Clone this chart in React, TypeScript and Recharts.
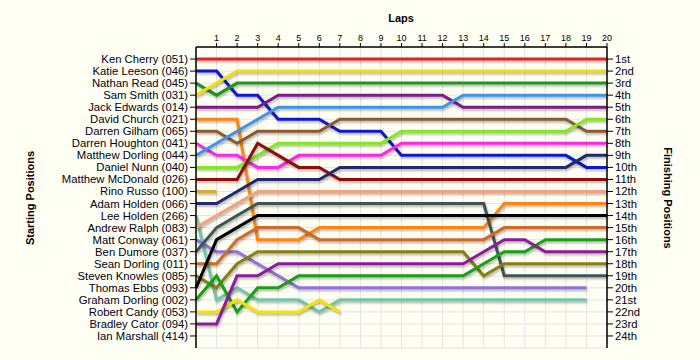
import { LineChart, Line, XAxis, YAxis, CartesianGrid } from "recharts";

const LAPS = [0, 1, 2, 3, 4, 5, 6, 7, 8, 9, 10, 11, 12, 13, 14, 15, 16, 17, 18, 19, 20];
const LAP_TICKS = [1, 2, 3, 4, 5, 6, 7, 8, 9, 10, 11, 12, 13, 14, 15, 16, 17, 18, 19, 20];
const POS_TICKS = [1, 2, 3, 4, 5, 6, 7, 8, 9, 10, 11, 12, 13, 14, 15, 16, 17, 18, 19, 20, 21, 22, 23, 24];

// starting grid, top to bottom
const STARTERS = [
  "Ken Cherry (051)",
  "Katie Leeson (046)",
  "Nathan Read (045)",
  "Sam Smith (031)",
  "Jack Edwards (014)",
  "David Church (021)",
  "Darren Gilham (065)",
  "Darren Houghton (041)",
  "Matthew Dorling (044)",
  "Daniel Nunn (040)",
  "Matthew McDonald (026)",
  "Rino Russo (100)",
  "Adam Holden (066)",
  "Lee Holden (266)",
  "Andrew Ralph (083)",
  "Matt Conway (061)",
  "Ben Dumore (037)",
  "Sean Dorling (011)",
  "Steven Knowles (085)",
  "Thomas Ebbs (093)",
  "Graham Dorling (002)",
  "Robert Candy (053)",
  "Bradley Cator (094)",
  "Ian Marshall (414)",
];

const FINISH_LABELS = [
  "1st", "2nd", "3rd", "4th", "5th", "6th", "7th", "8th", "9th", "10th", "11th", "12th",
  "13th", "14th", "15th", "16th", "17th", "18th", "19th", "20th", "21st", "22nd", "23rd", "24th",
];

const _ = null;

// position per lap (lap 0 .. 20)
const kenCherry = [1, 1, 1, 1, 1, 1, 1, 1, 1, 1, 1, 1, 1, 1, 1, 1, 1, 1, 1, 1, 1];
const katieLeeson = [2, 2, 4, 4, 6, 6, 6, 7, 7, 7, 9, 9, 9, 9, 9, 9, 9, 9, 9, 10, 10];
const nathanRead = [3, 4, 3, 3, 3, 3, 3, 3, 3, 3, 3, 3, 3, 3, 3, 3, 3, 3, 3, 3, 3];
const samSmith = [4, 3, 2, 2, 2, 2, 2, 2, 2, 2, 2, 2, 2, 2, 2, 2, 2, 2, 2, 2, 2];
const jackEdwards = [5, 5, 5, 5, 4, 4, 4, 4, 4, 4, 4, 4, 4, 5, 5, 5, 5, 5, 5, 5, 5];
const davidChurch = [6, 6, 6, 16, 16, 16, 15, 15, 15, 15, 15, 15, 15, 15, 15, 13, 13, 13, 13, 13, 13];
const darrenGilham = [7, 7, 8, 7, 7, 7, 7, 6, 6, 6, 6, 6, 6, 6, 6, 6, 6, 6, 6, 7, 7];
const darrenHoughton = [8, 9, 9, 10, 10, 9, 9, 9, 9, 9, 8, 8, 8, 8, 8, 8, 8, 8, 8, 8, 8];
const matthewDorling = [9, 8, 7, 6, 5, 5, 5, 5, 5, 5, 5, 5, 5, 4, 4, 4, 4, 4, 4, 4, 4];
const danielNunn = [10, 10, 10, 9, 8, 8, 8, 8, 8, 8, 7, 7, 7, 7, 7, 7, 7, 7, 7, 6, 6];
const matthewMcDonald = [11, 11, 11, 8, 9, 10, 10, 11, 11, 11, 11, 11, 11, 11, 11, 11, 11, 11, 11, 11, 11];
const rinoRusso = [12, 12, _, _, _, _, _, _, _, _, _, _, _, _, _, _, _, _, _, _, _];
const adamHolden = [13, 13, 12, 11, 11, 11, 11, 10, 10, 10, 10, 10, 10, 10, 10, 10, 10, 10, 10, 9, 9];
const leeHolden = [14, 21, 20, 21, 21, 21, 22, 21, 21, 21, 21, 21, 21, 21, 21, 21, 21, 21, 21, 21, _];
const andrewRalph = [15, 14, 13, 12, 12, 12, 12, 12, 12, 12, 12, 12, 12, 12, 12, 12, 12, 12, 12, 12, 12];
const mattConway = [16, 17, 17, 18, 19, 20, 20, 20, 20, 20, 20, 20, 20, 20, 20, 20, 20, 20, 20, 20, _];
const benDumore = [17, 15, 14, 13, 13, 13, 13, 13, 13, 13, 13, 13, 13, 13, 13, 19, 19, 19, 19, 19, 19];
const seanDorling = [18, 18, 16, 15, 15, 15, 16, 16, 16, 16, 16, 16, 16, 16, 16, 15, 15, 15, 15, 15, 15];
const stevenKnowles = [19, 20, 18, 17, 17, 17, 17, 17, 17, 17, 17, 17, 17, 17, 19, 18, 18, 18, 18, 18, 18];
const thomasEbbs = [20, 16, 15, 14, 14, 14, 14, 14, 14, 14, 14, 14, 14, 14, 14, 14, 14, 14, 14, 14, 14];
const grahamDorling = [21, 19, 22, 20, 20, 19, 19, 19, 19, 19, 19, 19, 19, 19, 18, 17, 17, 16, 16, 16, 16];
const robertCandy = [22, 22, 21, 22, 22, 22, 21, 22, _, _, _, _, _, _, _, _, _, _, _, _, _];
const bradleyCator = [23, 23, 19, 19, 18, 18, 18, 18, 18, 18, 18, 18, 18, 18, 17, 16, 16, 17, 17, 17, 17];

const SERIES = [
  { key: "kc", values: kenCherry, color: "#E82222" },
  { key: "kl", values: katieLeeson, color: "#0A18D4" },
  { key: "nr", values: nathanRead, color: "#1C961C" },
  { key: "ss", values: samSmith, color: "#F2DE0A" },
  { key: "je", values: jackEdwards, color: "#7E1A8C" },
  { key: "dc", values: davidChurch, color: "#FF8412" },
  { key: "dg", values: darrenGilham, color: "#8B5A2E" },
  { key: "dh", values: darrenHoughton, color: "#FF24E6" },
  { key: "md", values: matthewDorling, color: "#3D95E8" },
  { key: "dn", values: danielNunn, color: "#80EA1C" },
  { key: "mm", values: matthewMcDonald, color: "#8E0C0C" },
  { key: "rr", values: rinoRusso, color: "#D6AE2E" },
  { key: "ah", values: adamHolden, color: "#22286E" },
  { key: "lh", values: leeHolden, color: "#70C6AC" },
  { key: "ar", values: andrewRalph, color: "#F5A07E" },
  { key: "mc", values: mattConway, color: "#9370DB" },
  { key: "bd", values: benDumore, color: "#3D5556" },
  { key: "sd", values: seanDorling, color: "#D06A2A" },
  { key: "sk", values: stevenKnowles, color: "#858012" },
  { key: "te", values: thomasEbbs, color: "#000000" },
  { key: "gd", values: grahamDorling, color: "#16A016" },
  { key: "rc", values: robertCandy, color: "#F5E400" },
  { key: "bc", values: bradleyCator, color: "#8C1C9A" },
];

const rows = LAPS.map((lap, i) => {
  const row: Record<string, number | null> = { lap };
  SERIES.forEach((s) => {
    row[s.key] = s.values[i];
  });
  return row;
});

const FONT = '"Liberation Sans", Arial, sans-serif';

const titleStyle: React.CSSProperties = {
  position: "absolute",
  fontFamily: FONT,
  fontWeight: "bold",
  fontSize: 11,
  color: "#000",
  whiteSpace: "nowrap",
};

export default function App() {
  return (
    <div
      style={{
        position: "fixed",
        left: 0,
        top: 0,
        width: 700,
        height: 360,
        background: "#FFFFF3",
        overflow: "hidden",
      }}
    >
      <style>{`.recharts-line-curve { filter: drop-shadow(1px 2px 1px rgba(0,0,0,0.28)); }`}</style>
      <LineChart
        width={700}
        height={360}
        data={rows}
        margin={{ top: 17, right: 33, bottom: 12, left: 10 }}
      >
        <CartesianGrid stroke="#E4E4E4" strokeWidth={1} />
        <XAxis
          dataKey="lap"
          type="number"
          orientation="top"
          domain={[0, 20]}
          ticks={LAP_TICKS}
          height={30}
          tickSize={4}
          tickMargin={2}
          axisLine={{ stroke: "#000", strokeWidth: 1.5 }}
          tickLine={{ stroke: "#000" }}
          tick={{ fontSize: 9, fill: "#000", fontFamily: FONT }}
          interval={0}
        />
        <YAxis
          type="number"
          domain={[0, 25]}
          reversed
          ticks={POS_TICKS}
          width={186}
          tickSize={6}
          tickMargin={2}
          interval={0}
          tickFormatter={(v: number) => STARTERS[v - 1]}
          axisLine={{ stroke: "#000", strokeWidth: 1.5 }}
          tickLine={{ stroke: "#000" }}
          tick={{ fontSize: 11.3, fill: "#000018", fontFamily: FONT }}
        />
        <YAxis
          yAxisId="right"
          orientation="right"
          type="number"
          domain={[0, 25]}
          reversed
          ticks={POS_TICKS}
          width={60}
          tickSize={6}
          tickMargin={2}
          interval={0}
          tickFormatter={(v: number) => FINISH_LABELS[v - 1]}
          axisLine={{ stroke: "#000", strokeWidth: 1.5 }}
          tickLine={{ stroke: "#000" }}
          tick={{ fontSize: 11.3, fill: "#000018", fontFamily: FONT }}
        />
        {SERIES.map((s, i) => (
          <Line
            key={s.key}
            yAxisId={i === 0 ? "right" : 0}
            dataKey={s.key}
            type="linear"
            stroke={s.color}
            strokeWidth={3}
            dot={false}
            activeDot={false}
            isAnimationActive={false}
          />
        ))}
      </LineChart>
      <div style={{ ...titleStyle, left: 401, top: 18, transform: "translate(-50%, -50%)" }}>Laps</div>
      <div
        style={{
          ...titleStyle,
          left: 30,
          top: 198,
          transform: "translate(-50%, -50%) rotate(-90deg)",
        }}
      >
        Starting Positions
      </div>
      <div
        style={{
          ...titleStyle,
          left: 668,
          top: 198,
          transform: "translate(-50%, -50%) rotate(90deg)",
        }}
      >
        Finishing Positions
      </div>
    </div>
  );
}
